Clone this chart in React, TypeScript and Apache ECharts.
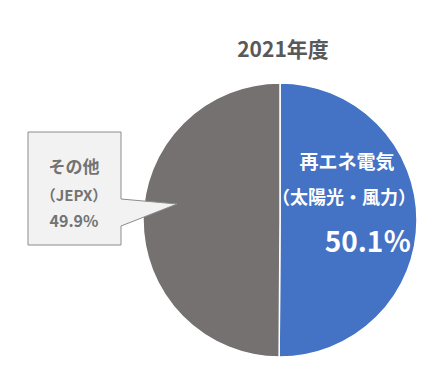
import React, { useEffect, useRef } from "react";
import * as echarts from "echarts";

const title = "2021年度";
const categories = ["再エネ電気", "その他"];
const subLabels = ["（太陽光・風力）", "（JEPX）"];
const values = [50.1, 49.9];
const colors = ["#4472C4", "#767171"];

const FONT = '"Noto Sans CJK JP", "Noto Sans", sans-serif';

export default function App() {
  const ref = useRef<HTMLDivElement>(null);
  useEffect(() => {
    if (!ref.current) return;
    const chart = echarts.init(ref.current, null, { renderer: "svg" });
    const txt = (x: number, y: number, text: string, size: number, fill: string, weight: string = "bold") => ({
      type: "text",
      x,
      y,
      z: 100,
      style: {
        text,
        fontFamily: FONT,
        fontSize: size,
        fontWeight: weight,
        fill,
        align: "center",
        verticalAlign: "middle",
      },
    });
    chart.setOption({
      animation: false,
      backgroundColor: "#ffffff",
      title: {
        text: title,
        left: 278,
        top: 32,
        textAlign: "center",
        textStyle: { fontFamily: FONT, fontSize: 21, fontWeight: "bold", color: "#595959" },
      },
      series: [
        {
          type: "pie",
          center: [280, 220],
          radius: [0, 137],
          startAngle: 90,
          clockwise: true,
          z: 2,
          label: { show: false },
          labelLine: { show: false },
          itemStyle: { borderColor: "#ffffff", borderWidth: 1.5 },
          data: categories.map((c, i) => ({
            name: c,
            value: values[i],
            itemStyle: { color: colors[i] },
          })),
        },
      ],
      graphic: [
        {
          type: "polygon",
          z: 100,
          shape: {
            points: [
              [28, 132],
              [121, 132],
              [121, 199],
              [177, 204],
              [121, 226],
              [121, 245],
              [28, 245],
            ],
          },
          style: { fill: "#F2F2F2", stroke: "#8C8C8C", lineWidth: 1 },
        },
        txt(74, 165, categories[1], 17, "#737373", "bold"),
        txt(74, 194, subLabels[1], 15, "#737373", "bold"),
        txt(74, 220, values[1].toFixed(1) + "%", 16, "#737373", "bold"),
        txt(347, 160, categories[0], 19, "#FFFFFF"),
        txt(344, 196, subLabels[0], 18, "#FFFFFF"),
        txt(368, 240, values[0].toFixed(1) + "％", 28, "#FFFFFF"),
      ],
    });
    return () => chart.dispose();
  }, []);
  return (
    <div
      ref={ref}
      style={{ position: "absolute", left: 0, top: 0, width: 437, height: 390 }}
    />
  );
}
